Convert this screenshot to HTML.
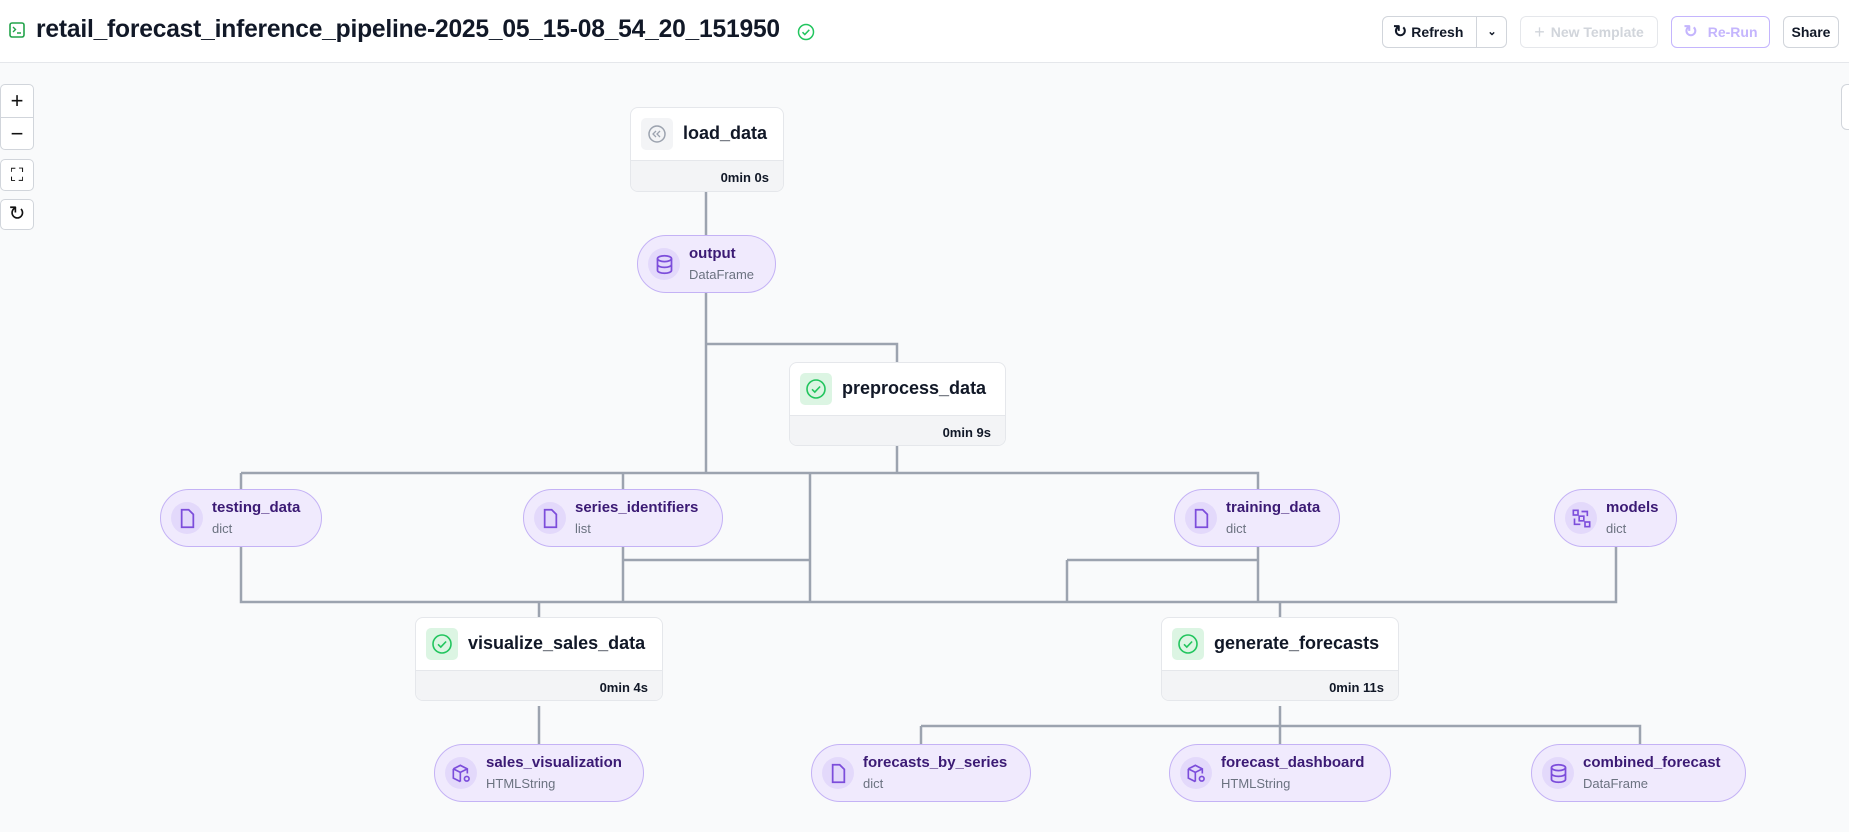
<!DOCTYPE html>
<html><head><meta charset="utf-8"><style>
*{box-sizing:border-box;margin:0;padding:0}
body{width:1849px;height:832px;overflow:hidden;background:#f9fafb;font-family:"Liberation Sans",sans-serif;position:relative}
#hdr{position:absolute;left:0;top:0;width:1849px;height:63px;background:#fff;border-bottom:1px solid #e5e7eb}
.title{position:absolute;left:36px;top:16px;font-size:24.6px;font-weight:600;color:#111827;letter-spacing:-0.2px}
.btn{position:absolute;top:16px;height:32px;border:1px solid #d1d5db;border-radius:6px;background:#fff;font-size:14px;font-weight:600;display:flex;align-items:center;justify-content:center;color:#111827}
.ctl{position:absolute;left:0;width:34px;background:#fff;border:1px solid #d1d5db;border-radius:5px;font-size:22px;text-align:center;color:#111}
.task{position:absolute;background:#fff;border:1px solid #e5e7eb;border-radius:8px;overflow:hidden}
.task .top{position:absolute;left:0;right:0;top:0;height:52px}
.task .ic{position:absolute;left:10px;top:10px;width:32px;height:32px;border-radius:5px;display:flex;align-items:center;justify-content:center}
.task .nm{position:absolute;left:52px;top:15px;font-size:18px;font-weight:600;color:#111827;white-space:nowrap}
.task .bot{position:absolute;left:0;right:0;bottom:0;top:52px;background:#f3f4f6;border-top:1px solid #e5e7eb;font-size:13px;font-weight:600;color:#111827;text-align:right;padding-right:14px;padding-top:9px}
.pill{position:absolute;height:58px;background:#f0eafd;border:1.5px solid #c4b2f5;border-radius:29px}
.pill .ic{position:absolute;left:10px;top:12px;width:32px;height:32px;border-radius:16px;background:#e3d9fb;display:flex;align-items:center;justify-content:center}
.pill .ic svg{width:21px;height:21px}
.pill .nm{position:absolute;left:51px;top:9px;font-size:15px;font-weight:600;color:#3b1a74;white-space:nowrap}
.pill .ty{position:absolute;left:51px;top:31px;font-size:13px;color:#6b7280;white-space:nowrap}
</style></head><body>
<div id="hdr">
<svg style="position:absolute;left:9px;top:22px" width="16" height="16" viewBox="0 0 16 16"><rect x="1" y="1" width="14" height="14" rx="2" fill="none" stroke="#22a34a" stroke-width="1.6"/><path d="M4 5l2.5 2.5L4 10M8 11h4" stroke="#22a34a" stroke-width="1.4" fill="none"/></svg>
<div class="title">retail_forecast_inference_pipeline-2025_05_15-08_54_20_151950</div>
<svg style="position:absolute;left:797px;top:23px" width="18" height="18" viewBox="0 0 18 18"><circle cx="9" cy="9" r="7.5" fill="none" stroke="#22c55e" stroke-width="1.5"/><path d="M5.5 9.2l2.3 2.3 4.5-4.7" stroke="#22c55e" stroke-width="1.5" fill="none"/></svg>
<div class="btn" style="left:1382px;width:125px;justify-content:flex-start;padding-left:10px"><span style="font-size:17px;margin-right:4px">&#8635;</span>Refresh<span style="position:absolute;left:93px;top:0;bottom:0;border-left:1px solid #d1d5db;width:31px;text-align:center;line-height:30px;font-size:11px">&#8964;</span></div>
<div class="btn" style="left:1520px;width:138px;color:#d1d5db;border-color:#e5e7eb"><span style="font-size:18px;margin-right:6px;font-weight:400">+</span>New Template</div>
<div class="btn" style="left:1671px;width:99px;color:#c4b5fd;border-color:#c4b5fd"><span style="font-size:17px;margin-right:10px">&#8635;</span>Re-Run</div>
<div class="btn" style="left:1783px;width:56px">Share</div>
</div>
<div class="ctl" style="top:84px;height:66px;line-height:32px">+<br><span style="display:block;border-top:1px solid #d1d5db">&minus;</span></div>
<div class="ctl" style="top:159px;height:32px;line-height:30px;font-size:18px">&#9974;</div>
<div class="ctl" style="top:199px;height:31px;line-height:29px;font-size:20px">&#8635;</div>
<div style="position:absolute;left:1841px;top:84px;width:20px;height:46px;background:#fff;border:1px solid #d1d5db;border-radius:6px"></div>

<svg style="position:absolute;left:0;top:0" width="1849" height="832" fill="none" stroke="#9ca3af" stroke-width="2.5">
<path d="M706 192V235M706 292V473M706 344H897V362M897 446V473M241 473H1258V489M241 473V489M623 473V489"/>
<path d="M810 473V602M241 547V602H1616V547M623 547V602M623 560H810M1258 547V602M1067 560H1258M1067 560V602M539 602V617M1280 602V617"/>
<path d="M539 706V744M1280 706V744M921 726H1640V744M921 726V744"/>
</svg>

<div class="task" style="left:630px;top:107px;width:154px;height:85px"><div class="top"><div class="ic" style="background:#f3f4f6"><svg width="20" height="20" viewBox="0 0 20 20"><circle cx="10" cy="10" r="8" stroke="#9ca3af" stroke-width="1.5" fill="none"/><path d="M9 7l-3 3 3 3M13 7l-3 3 3 3" stroke="#9ca3af" stroke-width="1.3" fill="none"/></svg></div><div class="nm">load_data</div></div><div class="bot">0min 0s</div></div>

<div class="task" style="left:789px;top:362px;width:217px;height:84px"><div class="top"><div class="ic" style="background:#dcf5e3"><svg width="22" height="22" viewBox="0 0 22 22"><circle cx="11" cy="11" r="9" stroke="#22c55e" stroke-width="1.6" fill="none"/><path d="M7 11.3l2.8 2.8 5.3-5.6" stroke="#22c55e" stroke-width="1.6" fill="none"/></svg></div><div class="nm">preprocess_data</div></div><div class="bot">0min 9s</div></div>

<div class="task" style="left:415px;top:617px;width:248px;height:84px"><div class="top"><div class="ic" style="background:#dcf5e3"><svg width="22" height="22" viewBox="0 0 22 22"><circle cx="11" cy="11" r="9" stroke="#22c55e" stroke-width="1.6" fill="none"/><path d="M7 11.3l2.8 2.8 5.3-5.6" stroke="#22c55e" stroke-width="1.6" fill="none"/></svg></div><div class="nm">visualize_sales_data</div></div><div class="bot">0min 4s</div></div>

<div class="task" style="left:1161px;top:617px;width:238px;height:84px"><div class="top"><div class="ic" style="background:#dcf5e3"><svg width="22" height="22" viewBox="0 0 22 22"><circle cx="11" cy="11" r="9" stroke="#22c55e" stroke-width="1.6" fill="none"/><path d="M7 11.3l2.8 2.8 5.3-5.6" stroke="#22c55e" stroke-width="1.6" fill="none"/></svg></div><div class="nm">generate_forecasts</div></div><div class="bot">0min 11s</div></div>

<div class="pill" style="left:637px;top:235px;width:139px"><div class="ic"><svg viewBox="0 0 18 18" fill="none" stroke="#7c4ddb" stroke-width="1.5"><ellipse cx="9" cy="4" rx="6" ry="2.5"/><path d="M3 4v10c0 1.4 2.7 2.5 6 2.5s6-1.1 6-2.5V4M3 9c0 1.4 2.7 2.5 6 2.5s6-1.1 6-2.5"/></svg></div><div class="nm">output</div><div class="ty">DataFrame</div></div>

<div class="pill" style="left:160px;top:489px;width:162px"><div class="ic"><svg viewBox="0 0 16 18" fill="none" stroke="#7c4ddb" stroke-width="1.5"><path d="M3 1.5h6l4 4v11H3z"/></svg></div><div class="nm">testing_data</div><div class="ty">dict</div></div>
<div class="pill" style="left:523px;top:489px;width:200px"><div class="ic"><svg viewBox="0 0 16 18" fill="none" stroke="#7c4ddb" stroke-width="1.5"><path d="M3 1.5h6l4 4v11H3z"/></svg></div><div class="nm">series_identifiers</div><div class="ty">list</div></div>
<div class="pill" style="left:1174px;top:489px;width:166px"><div class="ic"><svg viewBox="0 0 16 18" fill="none" stroke="#7c4ddb" stroke-width="1.5"><path d="M3 1.5h6l4 4v11H3z"/></svg></div><div class="nm">training_data</div><div class="ty">dict</div></div>
<div class="pill" style="left:1554px;top:489px;width:123px"><div class="ic"><svg viewBox="0 0 18 18" fill="none" stroke="#7c4ddb" stroke-width="1.4"><rect x="2" y="2" width="4" height="4"/><rect x="7" y="7" width="4" height="4"/><rect x="12" y="12" width="4" height="4"/><path d="M9 3h5v4M3 9v5h5"/></svg></div><div class="nm">models</div><div class="ty">dict</div></div>

<div class="pill" style="left:434px;top:744px;width:210px"><div class="ic"><svg viewBox="0 0 18 18" fill="none" stroke="#7c4ddb" stroke-width="1.4"><path d="M2 5l6-3 6 3v4M2 5v8l6 3M2 5l6 3 6-3M8 8v8"/><circle cx="13.5" cy="13.5" r="2"/></svg></div><div class="nm">sales_visualization</div><div class="ty">HTMLString</div></div>
<div class="pill" style="left:811px;top:744px;width:220px"><div class="ic"><svg viewBox="0 0 16 18" fill="none" stroke="#7c4ddb" stroke-width="1.5"><path d="M3 1.5h6l4 4v11H3z"/></svg></div><div class="nm">forecasts_by_series</div><div class="ty">dict</div></div>
<div class="pill" style="left:1169px;top:744px;width:222px"><div class="ic"><svg viewBox="0 0 18 18" fill="none" stroke="#7c4ddb" stroke-width="1.4"><path d="M2 5l6-3 6 3v4M2 5v8l6 3M2 5l6 3 6-3M8 8v8"/><circle cx="13.5" cy="13.5" r="2"/></svg></div><div class="nm">forecast_dashboard</div><div class="ty">HTMLString</div></div>
<div class="pill" style="left:1531px;top:744px;width:215px"><div class="ic"><svg viewBox="0 0 18 18" fill="none" stroke="#7c4ddb" stroke-width="1.5"><ellipse cx="9" cy="4" rx="6" ry="2.5"/><path d="M3 4v10c0 1.4 2.7 2.5 6 2.5s6-1.1 6-2.5V4M3 9c0 1.4 2.7 2.5 6 2.5s6-1.1 6-2.5"/></svg></div><div class="nm">combined_forecast</div><div class="ty">DataFrame</div></div>
</body></html>
